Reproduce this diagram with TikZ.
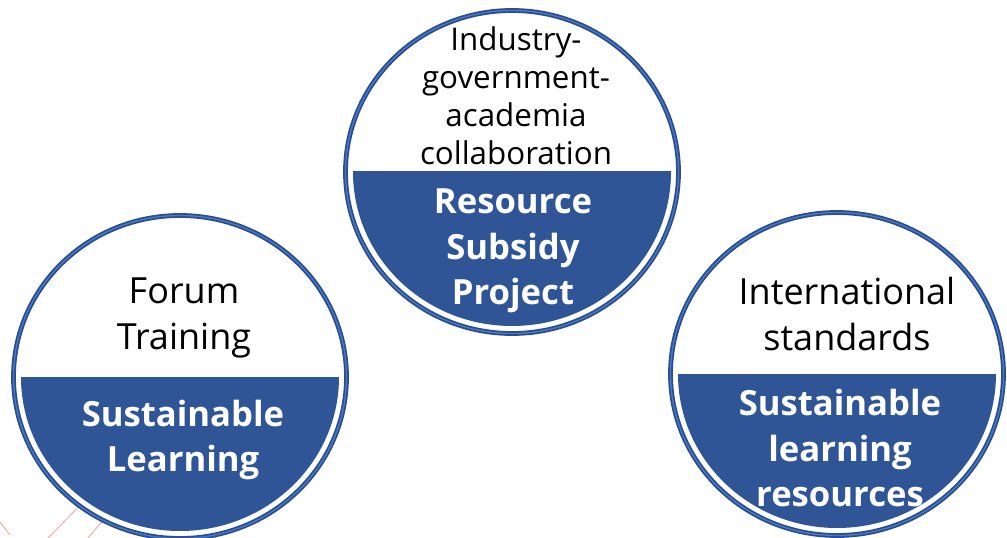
\documentclass[tikz,border=0pt]{standalone}
\usepackage{fontspec}
\setmainfont{Open Sans}
\usetikzlibrary{positioning}

\definecolor{ringblue}{HTML}{2A4E8C}
\definecolor{ringlight}{HTML}{4A78C8}
\definecolor{bandblue}{HTML}{2F5597}
\definecolor{marklines}{HTML}{F0A0A0}

\tikzset{
  ringout/.style={draw=ringblue, line width=3.6pt},
  ringin/.style={draw=ringlight, line width=1pt},
  band/.style={fill=bandblue},
  toptext/.style={align=center, text=black, font=\fontsize{27}{34}\selectfont},
  smalltext/.style={align=center, text=black, font=\fontsize{23.5}{28.5}\selectfont},
  bandtext/.style={align=center, text=white, font=\bfseries\fontsize{26}{34}\selectfont},
}

\begin{document}
\begin{tikzpicture}[x=0.75pt,y=-0.75pt]
\useasboundingbox (0,0) rectangle (1007,538);
\tikzstyle{every node}+=[inner sep=0pt]
% faint red lines at the lower left
\draw [marklines, line width=0.6pt] (0,522) -- (10,535);
\draw [marklines, line width=0.6pt] (48,538) -- (100,485);
\draw [marklines, line width=0.6pt] (88,538) -- (120,500);
\draw [marklines, line width=0.6pt] (172,530) -- (180,538);
\draw [marklines, line width=0.6pt] (208,527) -- (216,538);
% centres of the three rings
\coordinate (forum) at (180,377);
\coordinate (indus) at (512,172);
\coordinate (intl) at (837,374);
% white discs and blue bands
\foreach \c in {forum,indus,intl} {
  \fill [white] (\c) ellipse [x radius=166, y radius=162];
  \begin{scope}
    \clip (\c) ++(-170,0) rectangle ++(340,180);
    \fill [band] (\c) ellipse [x radius=159, y radius=154];
  \end{scope}
  \draw [ringout] (\c) ellipse [x radius=166.5, y radius=161.5];
  \draw [ringin] (\c) ellipse [x radius=166.5, y radius=161.5];
}
% texts
\node [toptext] (forumtop) at (184,318) {Forum\\Training};
\node [bandtext] (forumband) at (183,440) {Sustainable\\Learning};
\node [smalltext] (industop) at (516,96) {Industry-\\government-\\academia\\collaboration};
\node [bandtext] (indusband) at (513,251) {Resource\\Subsidy\\Project};
\node [toptext] (intltop) at (847,314) {International\\standards};
\node [bandtext] (intlband) at (840,448) {Sustainable\\learning\\resources};
\end{tikzpicture}
\end{document}
